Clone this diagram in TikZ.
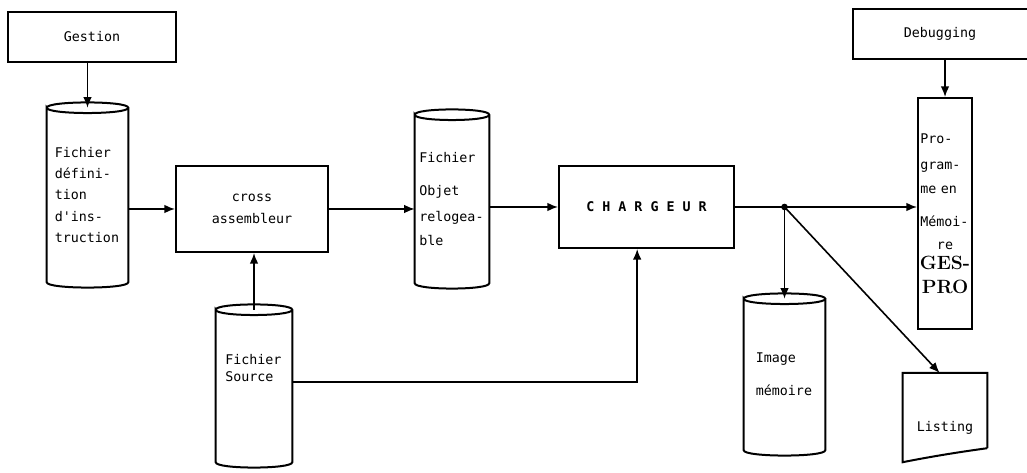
\documentclass[tikz,border=0pt]{standalone}
\usepackage{fontspec}
\setmonofont{DejaVu Sans Mono}
\usetikzlibrary{arrows.meta,calc}

\newcommand{\setlead}[1]{\fontsize{10pt}{#1}\selectfont}
\newcommand{\drumshape}[1]{%
  \draw[line width=1.5pt]
    (#1.north west) .. controls ([yshift=5.3pt]#1.north west) and ([yshift=5.3pt]#1.north east) .. (#1.north east)
    .. controls ([yshift=-5.3pt]#1.north east) and ([yshift=-5.3pt]#1.north west) .. (#1.north west)
    -- (#1.south west)
    .. controls ([yshift=-5.3pt]#1.south west) and ([yshift=-5.3pt]#1.south east) .. (#1.south east)
    -- (#1.north east);}

\tikzset{
  box/.style={draw,line width=1.5pt,font=\ttfamily,align=center},
  drum/.style={inner sep=0pt,align=left,font=\ttfamily},
  flow/.style={line width=1.2pt,-{Latex[length=8pt,width=6.5pt]}},
  wire/.style={line width=1.2pt}
}

\begin{document}
\begin{tikzpicture}[x=0.75pt,y=-0.75pt]
  \useasboundingbox (0,0) rectangle (1027,473);
  \node[box,minimum width=126pt,minimum height=37.5pt] (gestion) at (92,37) {Gestion};
  \node[drum,minimum width=60.75pt,minimum height=130.5pt,text width=49pt,font=\ttfamily\setlead{16pt}] (defn) at (87.5,195) {Fichier\\défini-\\tion\\d'ins-\\truction};
  \drumshape{defn}
  \node[box,minimum width=114pt,minimum height=64.5pt,font=\ttfamily\setlead{17pt}] (cross) at (252,209) {cross\\assembleur};
  \node[drum,minimum width=57pt,minimum height=114pt,text width=43pt,font=\ttfamily\setlead{13pt}] (source) at (254,386) {Fichier\\Source\\[14pt]\mbox{}};
  \drumshape{source}
  \node[drum,minimum width=55.5pt,minimum height=126pt,text width=49pt,font=\ttfamily\setlead{12pt}] (objet) at (452,199) {Fichier\\[13pt]Objet\\[7pt]relogea-\\[6pt]ble};
  \drumshape{objet}
  \node[box,minimum width=131.25pt,minimum height=61.5pt,font=\ttfamily\bfseries] (charg) at (646.5,207) {C H A R G E U R};
  \node[drum,minimum width=60.75pt,minimum height=113.25pt,text width=43pt,font=\ttfamily\setlead{25pt}] (mem) at (784.5,374.5) {Image\\mémoire};
  \drumshape{mem}
  \node[minimum width=130.5pt,minimum height=37.5pt,font=\ttfamily] (dbg) at (940,34) {Debugging};
  \draw[line width=1.5pt] (dbg.north east) -- (dbg.north west) -- (dbg.south west) -- (dbg.south east);
  \node[box,minimum width=40.5pt,minimum height=173.25pt,inner xsep=0.5pt,text width=37pt,align=left,font=\ttfamily\setlead{18pt}] (prog) at (945,213.5)
    {Pro-\\[1.5pt]gram-\\me en\\[7pt]Mémoi-\\[-1pt]\makebox[\linewidth]{re}\\[-3pt]\makebox[\linewidth]{\rmfamily\Large\bfseries GES-}\\\makebox[\linewidth]{\rmfamily\Large\bfseries PRO}};
  \node[anchor=north,minimum width=63pt,inner sep=4pt,text height=40pt,text depth=15.5pt,font=\ttfamily] (listing) at (945,373) {Listing};
  \draw[line width=1.5pt] ([yshift=7.5pt]listing.south east) -- (listing.north east) -- (listing.north west) -- ([yshift=-3pt]listing.south west)
    .. controls +(20pt,4pt) and +(-22pt,-3pt) .. ([yshift=7.5pt]listing.south east);
  \draw[flow] (gestion.south -| defn.north) -- (defn.north);
  \draw[flow] (defn.east |- cross.west) -- (cross.west);
  \draw[flow] (source.north) -- (source.north |- cross.south);
  \draw[flow] (cross.east) -- (cross.east -| objet.west);
  \draw[flow] (objet.east |- charg.west) -- (charg.west);
  \draw[flow] ([yshift=3pt]source.east) -| ([xshift=-7pt]charg.south);
  \coordinate (split) at (charg.east -| mem.north);
  \draw[wire] (charg.east) -- (split);
  \fill (split) circle (2.5pt);
  \draw[flow] (split) -- (split -| prog.west);
  \draw[flow] (split) -- (mem.north);
  \draw[flow] (split) -- ([xshift=-4pt]listing.north);
  \draw[flow] (dbg.south -| prog.north) -- (prog.north);
\end{tikzpicture}
\end{document}
